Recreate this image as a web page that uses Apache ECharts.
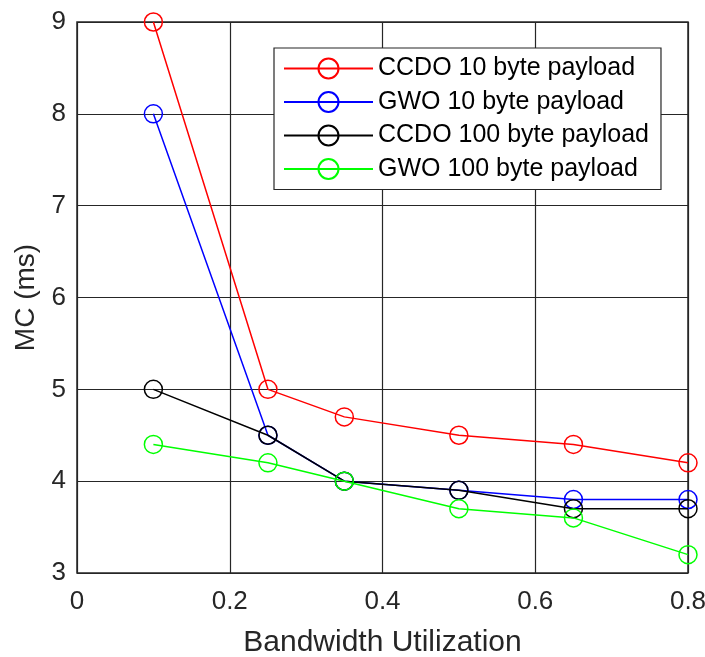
<!DOCTYPE html>
<html>
<head>
<meta charset="utf-8">
<script src="https://cdn.jsdelivr.net/npm/echarts@6/dist/echarts.min.js"></script>
<style>html,body{margin:0;padding:0;background:#fff}#c{width:705px;height:657px}</style>
</head>
<body>
<div id="c"></div>
<script>
const xValues = [0.1, 0.25, 0.35, 0.5, 0.65, 0.8];
const ccdo10 = [9, 5, 4.7, 4.5, 4.4, 4.2];
const gwo10 = [8, 4.5, 4.0, 3.9, 3.8, 3.8];
const ccdo100 = [5, 4.5, 4.0, 3.9, 3.7, 3.7];
const gwo100 = [4.4, 4.2, 4.0, 3.7, 3.6, 3.2];
const seriesNames = ['CCDO 10 byte payload', 'GWO 10 byte payload', 'CCDO 100 byte payload', 'GWO 100 byte payload'];
const seriesColors = ['#ff0000', '#0000ff', '#000000', '#00ff00'];
const seriesData = [ccdo10, gwo10, ccdo100, gwo100];

const FONT = 'Liberation Sans, Arial, Helvetica, sans-serif';
const chart = echarts.init(document.getElementById('c'), null, {renderer: 'canvas'});
const gridColor = '#262626';

chart.setOption({
  animation: false,
  backgroundColor: '#fff',
  grid: {left: 77, right: 17, top: 22, bottom: 84, show: true, borderColor: gridColor, borderWidth: 1.5,
         backgroundColor: 'transparent', containLabel: false, outerBoundsMode: 'none'},
  legend: {
    orient: 'vertical',
    left: 274, top: 48,
    padding: [8, 12, 8, 9],
    itemWidth: 89, itemHeight: 25, itemGap: 8.5,
    borderColor: gridColor, borderWidth: 1.2, backgroundColor: '#fff',
    textStyle: {fontFamily: FONT, fontSize: 25, color: '#000', lineHeight: 25},
    data: seriesNames
  },
  xAxis: {
    type: 'value', min: 0, max: 0.8, interval: 0.2,
    name: 'Bandwidth Utilization', nameLocation: 'middle', nameGap: 55,
    nameTextStyle: {fontFamily: FONT, fontSize: 30, color: '#262626'},
    axisLine: {show: false}, axisTick: {show: false},
    axisLabel: {fontFamily: FONT, fontSize: 26, color: '#262626', margin: 16},
    splitLine: {show: true, lineStyle: {color: gridColor, width: 1.2}}
  },
  yAxis: {
    type: 'value', min: 3, max: 9, interval: 1,
    name: 'MC (ms)', nameLocation: 'middle', nameGap: 34,
    nameTextStyle: {fontFamily: FONT, fontSize: 28, color: '#262626'},
    axisLine: {show: false}, axisTick: {show: false},
    axisLabel: {fontFamily: FONT, fontSize: 26, color: '#262626', margin: 11},
    splitLine: {show: true, lineStyle: {color: gridColor, width: 1.2}}
  },
  series: seriesNames.map((n, i) => ({
    name: n, type: 'line',
    data: xValues.map((x, j) => [x, seriesData[i][j]]),
    symbol: 'circle', symbolSize: 18,
    lineStyle: {color: seriesColors[i], width: 1.5},
    itemStyle: {color: 'rgba(255,255,255,0)', borderColor: seriesColors[i], borderWidth: 1.5},
    emphasis: {disabled: true},
    z: 2 + i
  }))
});
</script>
</body>
</html>
